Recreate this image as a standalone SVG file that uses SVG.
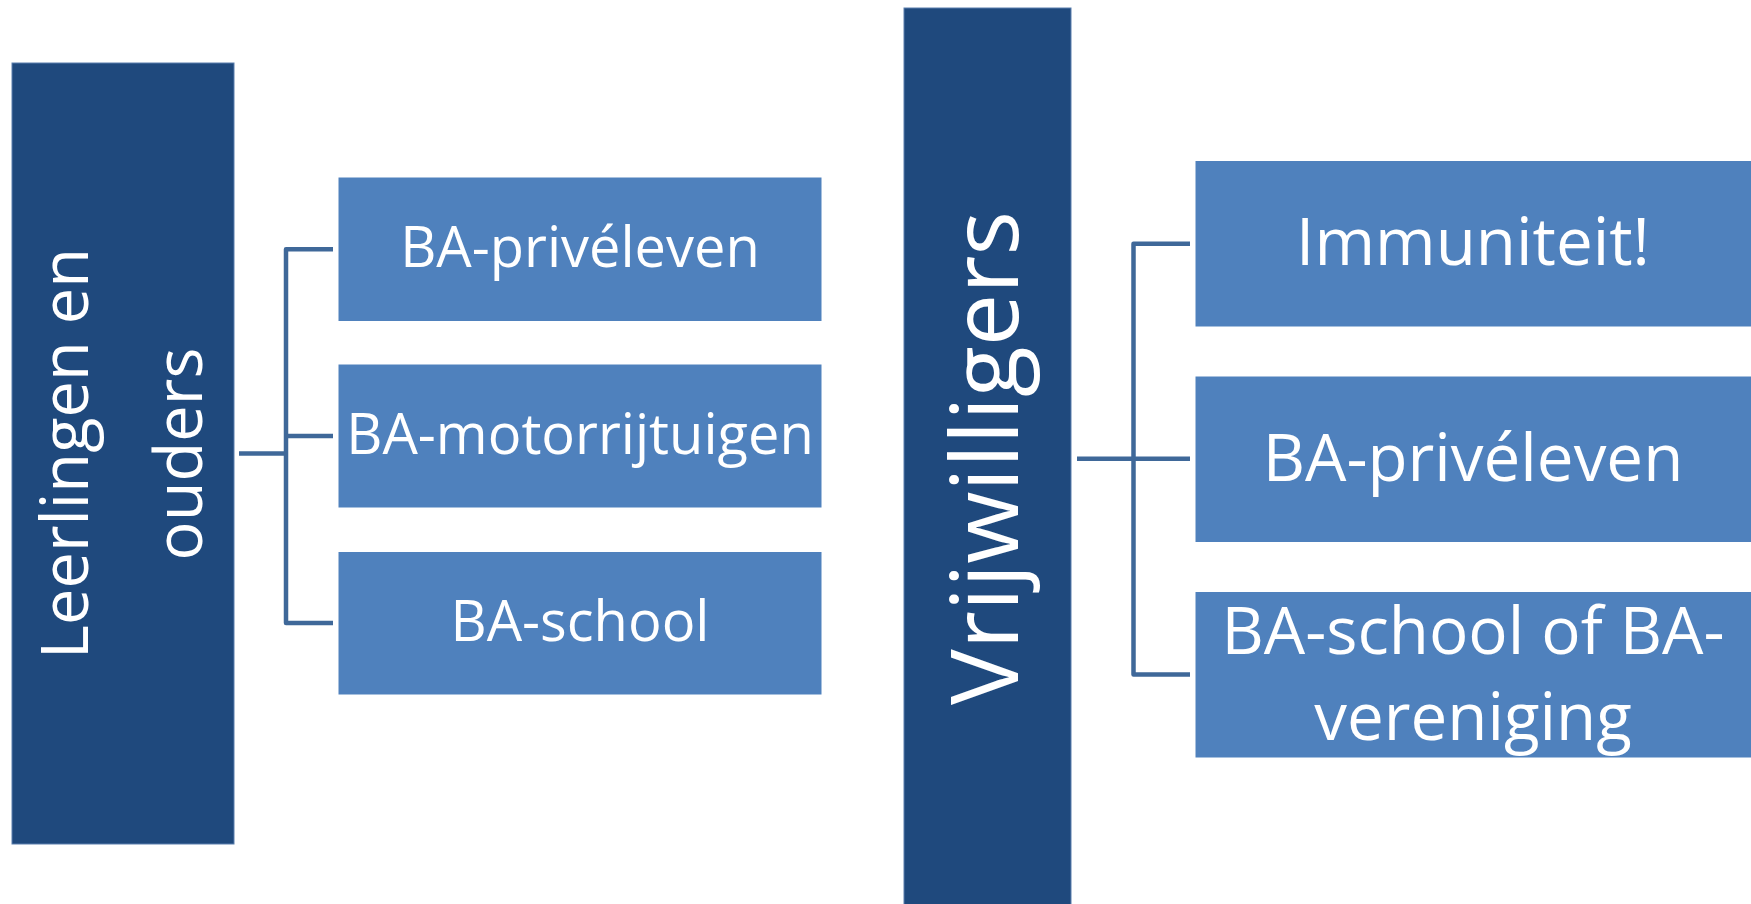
<svg xmlns="http://www.w3.org/2000/svg" width="1751" height="904" viewBox="0 0 1751 904">
<style>
.dark{fill:#1F497D;stroke:#5a7fae;stroke-width:1}
.light{fill:#4F81BD;stroke:#ffffff;stroke-width:1}
.t{font-family:"Open Sans","Liberation Sans",sans-serif;fill:#ffffff;text-anchor:middle}
.s1{font-size:56px}
.s2{font-size:65.5px}
.conn{fill:none;stroke:#3F6899;stroke-width:4.5;stroke-linejoin:round}
</style>
<rect x="0" y="0" width="1751" height="904" fill="#ffffff"/>
<g id="connectors">
<path class="conn" d="M239,453.5 H286"/>
<path class="conn" d="M333,249.3 H286 V623 H333"/>
<path class="conn" d="M286,436 H333"/>
<path class="conn" d="M1077,458.7 H1190"/>
<path class="conn" d="M1190,243.7 H1133.5 V674.5 H1190"/>
</g>
<g id="node-leerlingen">
<rect class="dark" x="12" y="63" width="222" height="781"/>
<text class="t" style="font-size:65px" transform="translate(88,453.5) rotate(-90)">Leerlingen en</text>
<text class="t" style="font-size:65px" transform="translate(202,454) rotate(-90)">ouders</text>
</g>
<g id="node-l-prive">
<rect class="light" x="338" y="177" width="484" height="144.5"/>
<text class="t s1" x="580" y="267">BA-privéleven</text>
</g>
<g id="node-l-motor">
<rect class="light" x="338" y="364" width="484" height="144"/>
<text class="t s1" x="580" y="454">BA-motorrijtuigen</text>
</g>
<g id="node-l-school">
<rect class="light" x="338" y="551.5" width="484" height="143.5"/>
<text class="t s1" x="580" y="641">BA-school</text>
</g>
<g id="node-vrijwilligers">
<rect class="dark" x="904" y="8" width="167" height="900"/>
<text class="t" style="font-size:93.5px" transform="translate(1018,458) rotate(-90)">Vrijwilligers</text>
</g>
<g id="node-immuniteit">
<rect class="light" x="1195" y="160.5" width="560" height="166.5"/>
<text class="t s2" x="1473" y="265">Immuniteit!</text>
</g>
<g id="node-r-prive">
<rect class="light" x="1195" y="376" width="560" height="166.5"/>
<text class="t s2" x="1473" y="480.5">BA-privéleven</text>
</g>
<g id="node-r-school">
<rect class="light" x="1195" y="591.5" width="560" height="166.5"/>
<text class="t s2" x="1473" y="654">BA-school of BA-</text>
<text class="t s2" x="1473" y="740">vereniging</text>
</g>
</svg>
